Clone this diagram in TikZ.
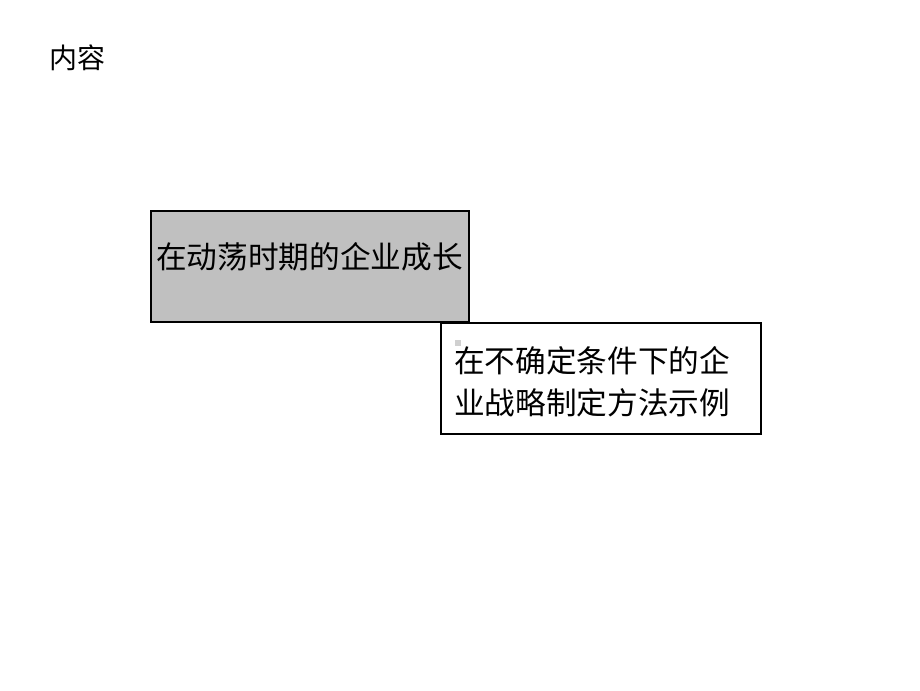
\documentclass[tikz,border=0pt]{standalone}
\usepackage{fontspec}
\newfontfamily\cjk{Noto Sans CJK SC}
\definecolor{boxgray}{HTML}{C0C0C0}
\definecolor{markgray}{HTML}{D0D0D0}
\begin{document}
\begin{tikzpicture}[x=0.75pt,y=-0.75pt,
  box/.style={draw=black,line width=1.6pt,inner sep=0pt,anchor=north west},
  label/.style={inner sep=0pt,font=\cjk\fontsize{23}{31.5}\selectfont,text=black}]
\useasboundingbox[fill=white] (0,0) rectangle (920,690);
\node[inner sep=0pt,anchor=west,font=\cjk\fontsize{21}{25}\selectfont] (title) at (49,58) {内容};
\node[box,fill=boxgray,minimum width=318*0.75pt,minimum height=111*0.75pt] (growth) at (150,210) {};
\node[label] (growthtext) at (309.5,257) {在动荡时期的企业成长};
\node[box,fill=white,minimum width=320*0.75pt,minimum height=111*0.75pt] (strategy) at (440,322) {};
\node[fill=markgray,minimum size=4pt,inner sep=0pt] (mark) at (458,343) {};
\node[label,anchor=north west,align=left] (strategytext) at (454,346) {在不确定条件下的企\\业战略制定方法示例};
\end{tikzpicture}
\end{document}
